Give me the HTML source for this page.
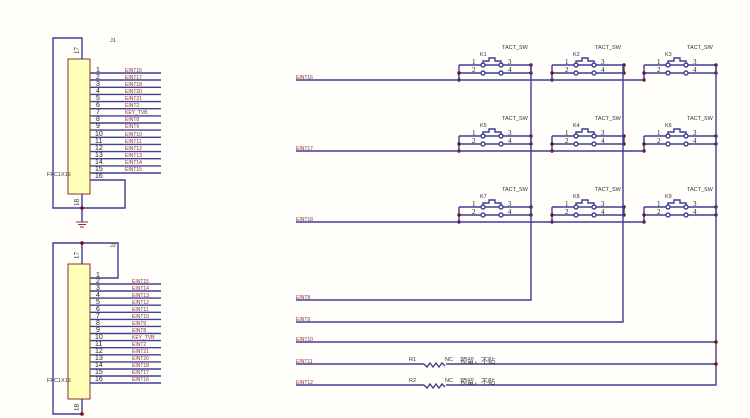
<!DOCTYPE html>
<html><head><meta charset="utf-8"><style>
html,body{margin:0;padding:0;background:#fffefa;}
svg{display:block;}
text{font-family:"Liberation Sans","Noto Sans CJK SC",sans-serif;}
.l{stroke:#3e3e96;stroke-width:1.4;fill:none;}
.r{fill:#8b3030;font-size:5px;}
.n{fill:#222;font-size:7px;font-family:"Liberation Serif",serif;}
.b{fill:#333;font-size:5.5px;}
.d{fill:#6a1020;}
</style></head><body>
<svg width="750" height="418" viewBox="0 0 750 418" xmlns="http://www.w3.org/2000/svg">
<defs>
<g id="sw">
 <path class="l" d="M0,0H22M26,0H40M44,0H72M0,8H22M26,8H40M44,8H72M0,0V15M72,0V8"/>
 <circle class="l" cx="24" cy="0" r="2"/><circle class="l" cx="24" cy="8" r="2"/>
 <circle class="l" cx="42" cy="0" r="2"/><circle class="l" cx="42" cy="8" r="2"/>
 <path class="l" d="M24,-2V-4H30V-7H36V-4H42V-2"/>
 <circle class="d" cx="0" cy="8" r="1.7"/><circle class="d" cx="0" cy="15" r="1.7"/>
 <circle class="d" cx="72" cy="0" r="1.7"/><circle class="d" cx="72" cy="8" r="1.7"/>
 <text class="n" x="13" y="-1">1</text><text class="n" x="13" y="7">2</text>
 <text class="n" x="49" y="-1">3</text><text class="n" x="49" y="7">4</text>
 <text class="b" x="43" y="-16">TACT_SW</text>
</g>
</defs>
<!-- J1 -->
<rect x="68" y="59" width="22" height="135" fill="#ffffb8" stroke="#8b3030" stroke-width="1"/>
<path class="l" d="M82,59V38H53V208H125V180H90M82,194V222"/>
<circle class="d" cx="82" cy="208" r="1.8"/>
<path stroke="#8b3030" stroke-width="1" d="M76,222H88M78,224.5H86M80,227H84"/>
<text class="b" x="110" y="42">J1</text>
<text class="n" x="79" y="54" transform="rotate(-90 79 54)" font-size="6">17</text>
<text class="n" x="79" y="206" transform="rotate(-90 79 206)" font-size="6">18</text>
<text class="b" x="47" y="176">FPC1X16</text>
<!-- J2 -->
<rect x="68" y="264" width="22" height="135" fill="#ffffb8" stroke="#8b3030" stroke-width="1"/>
<path class="l" d="M82,264V243H53V414H82V399M82,243H118V278H90"/>
<circle class="d" cx="82" cy="243" r="1.8"/><circle class="d" cx="82" cy="414" r="1.8"/>
<text class="b" x="110" y="247">J2</text>
<text class="n" x="79" y="259" transform="rotate(-90 79 259)" font-size="6">17</text>
<text class="n" x="79" y="411" transform="rotate(-90 79 411)" font-size="6">18</text>
<text class="b" x="47" y="382">FPC1X16</text>
<g class="l">
<path d="M90,73H161M90,80H161M90,87.3H161M90,94.4H161M90,101.6H161M90,108.7H161M90,115.9H161M90,123H161M90,130.1H161M90,137.3H161M90,144.4H161M90,151.6H161M90,158.7H161M90,165.9H161M90,173H161"/>
<path d="M90,284H161M90,291H161M90,298.1H161M90,305.2H161M90,312.3H161M90,319.4H161M90,326.4H161M90,333.5H161M90,340.6H161M90,347.7H161M90,354.8H161M90,361.9H161M90,369H161M90,376H161M90,383H161"/>
</g>
<g class="n" font-size="6.5">
<text x="96" y="72">1</text><text x="96" y="79">2</text><text x="96" y="86">3</text><text x="96" y="93">4</text><text x="96" y="100">5</text><text x="96" y="107">6</text><text x="96" y="114">7</text><text x="96" y="121">8</text><text x="96" y="128">9</text><text x="95" y="136">10</text><text x="95" y="143">11</text><text x="95" y="150">12</text><text x="95" y="157">13</text><text x="95" y="164">14</text><text x="95" y="171">15</text><text x="95" y="178">16</text>
<text x="96" y="277">1</text><text x="96" y="283">2</text><text x="96" y="290">3</text><text x="96" y="297">4</text><text x="96" y="304">5</text><text x="96" y="311">6</text><text x="96" y="318">7</text><text x="96" y="325">8</text><text x="96" y="332">9</text><text x="95" y="339">10</text><text x="95" y="346">11</text><text x="95" y="353">12</text><text x="95" y="360">13</text><text x="95" y="367">14</text><text x="95" y="374">15</text><text x="95" y="381">16</text>
</g>
<g class="r">
<text x="125" y="72">EINT16</text><text x="125" y="79">EINT17</text><text x="125" y="86">EINT18</text><text x="125" y="93">EINT20</text><text x="125" y="100">EINT21</text><text x="125" y="107">EINT2</text><text x="125" y="114">KEY_TVB</text><text x="125" y="121">EINT8</text><text x="125" y="128">EINT9</text><text x="125" y="136">EINT10</text><text x="125" y="143">EINT11</text><text x="125" y="150">EINT12</text><text x="125" y="157">EINT13</text><text x="125" y="164">EINT14</text><text x="125" y="171">EINT15</text>
<text x="132" y="283">EINT15</text><text x="132" y="290">EINT14</text><text x="132" y="297">EINT13</text><text x="132" y="304">EINT12</text><text x="132" y="311">EINT11</text><text x="132" y="318">EINT10</text><text x="132" y="325">EINT9</text><text x="132" y="332">EINT8</text><text x="132" y="339">KEY_TVB</text><text x="132" y="346">EINT2</text><text x="132" y="353">EINT21</text><text x="132" y="360">EINT20</text><text x="132" y="367">EINT18</text><text x="132" y="374">EINT17</text><text x="132" y="381">EINT16</text>
</g>
<!-- switches -->
<use href="#sw" x="459" y="65"/><use href="#sw" x="552" y="65"/><use href="#sw" x="644" y="65"/>
<use href="#sw" x="459" y="136"/><use href="#sw" x="552" y="136"/><use href="#sw" x="644" y="136"/>
<use href="#sw" x="459" y="207"/><use href="#sw" x="552" y="207"/><use href="#sw" x="644" y="207"/>
<g class="b">
<text x="480" y="56">K1</text><text x="573" y="56">K2</text><text x="665" y="56">K3</text>
<text x="480" y="127">K5</text><text x="573" y="127">K4</text><text x="665" y="127">K6</text>
<text x="480" y="198">K7</text><text x="573" y="198">K8</text><text x="665" y="198">K9</text>
</g>
<path class="l" d="M296,80H644M296,151H644M296,222H644M531,65V300H296M623,65V322H296M716,65V385H296M296,342H716M296,364H716"/>
<circle class="d" cx="716" cy="342" r="1.7"/><circle class="d" cx="716" cy="364" r="1.7"/>
<path fill="#fffefa" d="M424,360h22v8h-22zM424,381h22v8h-22z"/>
<path class="l" d="M424,364l3,3l3,-4l3,4l3,-4l3,4l3,-4l3,3M424,385l3,3l3,-4l3,4l3,-4l3,4l3,-4l3,3"/>
<g class="r">
<text x="296" y="79">EINT16</text><text x="296" y="150">EINT17</text><text x="296" y="221">EINT18</text>
<text x="296" y="299">EINT8</text><text x="296" y="321">EINT9</text><text x="296" y="341">EINT10</text><text x="296" y="363">EINT11</text><text x="296" y="384">EINT12</text>
</g>
<g class="b">
<text x="409" y="361">R1</text><text x="445" y="361">NC</text>
<text x="409" y="382">R2</text><text x="445" y="382">NC</text>
</g>
<text x="460" y="363" font-size="7" fill="#333">预留，不贴</text>
<text x="460" y="384" font-size="7" fill="#333">预留，不贴</text>
</svg>
</body></html>
